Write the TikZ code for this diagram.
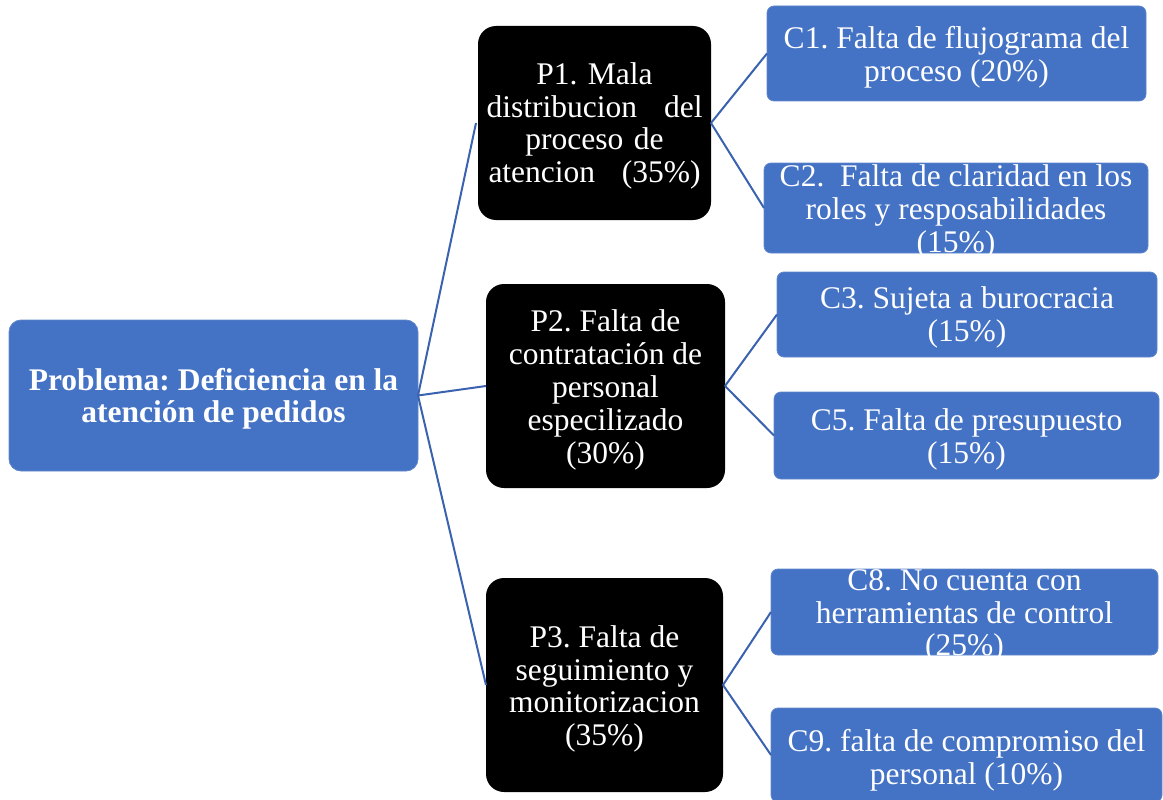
\documentclass[tikz,border=0pt]{standalone}
\usepackage{fontspec}
\setmainfont{Liberation Serif}
\definecolor{boxblue}{HTML}{4472C4}
\definecolor{linkblue}{HTML}{3A62AE}
\tikzset{
  every node/.style={inner sep=0pt, outer sep=0pt},
  bluebox/.style={fill=boxblue, draw=boxblue!85!white, line width=0.8pt, rounded corners=7pt},
  rootbox/.style={fill=boxblue, draw=boxblue!85!white, line width=0.8pt, rounded corners=12pt},
  blackbox/.style={fill=black, rounded corners=18pt},
  boxtext/.style={text=white, align=center, font=\fontsize{31.5}{32.8}\selectfont\frenchspacing},
  roottext/.style={text=white, align=center, font=\fontsize{31.5}{32}\selectfont\bfseries\frenchspacing},
  link/.style={draw=linkblue, line width=2pt}
}
\begin{document}
\begin{tikzpicture}[x=1pt,y=-1pt]
\useasboundingbox (0,0) rectangle (1163,800);
% boxes
\node[rootbox, minimum width=409pt, minimum height=151pt] (root) at (213.5,395.5) {};
\node[blackbox, minimum width=233pt, minimum height=194pt] (p1) at (594.5,123) {};
\node[blackbox, minimum width=239pt, minimum height=204pt] (p2) at (605.5,386) {};
\node[blackbox, minimum width=237pt, minimum height=214pt] (p3) at (604.5,685) {};
\node[bluebox, minimum width=379pt, minimum height=95pt] (c1) at (956.5,53.5) {};
\node[bluebox, minimum width=384pt, minimum height=90pt] (c2) at (956,208) {};
\node[bluebox, minimum width=380pt, minimum height=85pt] (c3) at (967,314.5) {};
\node[bluebox, minimum width=385pt, minimum height=87pt] (c5) at (966.5,435.5) {};
\node[bluebox, minimum width=387pt, minimum height=86pt] (c8) at (964.5,612) {};
\node[bluebox, minimum width=391pt, minimum height=94pt] (c9) at (966.5,755) {};
% texts
\node[roottext] at ([yshift=-3pt]root.center) {Problema: Deficiencia en la\\atención de pedidos};
\node[boxtext, text width=216pt] at ([yshift=-3pt]p1.center) {P1. Mala\\\leavevmode\hbox to 216pt{distribucion\hfill del}\\proceso de\\\leavevmode\hbox to 212pt{atencion\hfill(35\%)}};
\node[boxtext] at ([yshift=-4pt]p2.center) {P2. Falta de\\contratación de\\personal\\especilizado\\(30\%)};
\node[boxtext] at ([yshift=-4pt]p3.center) {P3. Falta de\\seguimiento y\\monitorizacion\\(35\%)};
\node[boxtext] at ([yshift=-4pt]c1.center) {C1. Falta de flujograma del\\proceso (20\%)};
\node[boxtext] at ([yshift=-4pt]c2.center) {C2.\ \ Falta de claridad en los\\roles y resposabilidades\\(15\%)};
\node[boxtext] at ([yshift=-3pt]c3.center) {C3. Sujeta a burocracia\\(15\%)};
\node[boxtext] at ([yshift=-4pt]c5.center) {C5. Falta de presupuesto\\(15\%)};
\node[boxtext] at ([yshift=-4pt]c8.center) {C8. No cuenta con\\herramientas de control\\(25\%)};
\node[boxtext] at ([yshift=-5pt]c9.center) {C9. falta de compromiso del\\personal (10\%)};
% connectors
\draw[link] (root.east) -- ([xshift=-2pt]p1.west);
\draw[link] (root.east) -- (p2.west);
\draw[link] (root.east) -- (p3.west);
\draw[link] (p1.east) -- (c1.west);
\draw[link] (p1.east) -- (c2.west);
\draw[link] (p2.east) -- (c3.west);
\draw[link] (p2.east) -- (c5.west);
\draw[link] (p3.east) -- (c8.west);
\draw[link] (p3.east) -- (c9.west);
\end{tikzpicture}
\end{document}
